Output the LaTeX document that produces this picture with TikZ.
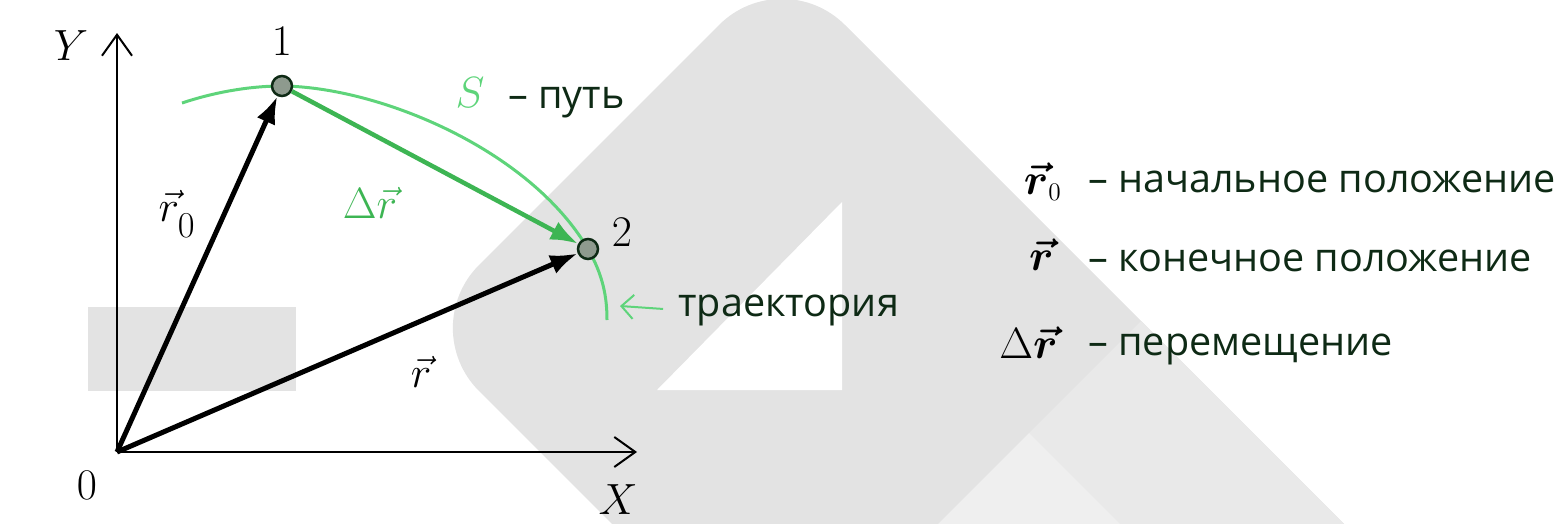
\documentclass[tikz,border=0pt]{standalone}
\usepackage{amsmath}
\usepackage{fontspec}
\usepackage{tikz}
\usetikzlibrary{arrows.meta, positioning}
\newfontfamily\rufont{Open Sans}
\definecolor{colorPath}{HTML}{5ED47A}
\definecolor{colorShift}{HTML}{3DB553}
\definecolor{colorText}{HTML}{0E2A15}
\definecolor{colorPoint}{HTML}{8E9A8E}
\definecolor{colorMark}{HTML}{E3E3E3}
\definecolor{colorMarkMid}{HTML}{E9E9E9}
\definecolor{colorMarkLight}{HTML}{EFEFEF}

\begin{document}
\begin{tikzpicture}[
        x=0.02cm, y=-0.02cm,
        lbl/.style={font=\fontsize{28}{32}\selectfont, inner sep=0pt},
        sym/.style={font=\fontsize{27}{32}\selectfont, inner sep=0pt, anchor=base east},
        txt/.style={font=\rufont\fontsize{22.5}{27}\selectfont, text=colorText, inner sep=0pt, anchor=base west},
        pt/.style={circle, draw=colorText, fill=colorPoint, line width=0.05cm,
            minimum size=0.4cm, inner sep=0pt},
        axis/.style={-{Straight Barb[length=0.42cm, width=0.6cm]}, line width=0.04cm},
        vec/.style={-{Latex[length=0.55cm, width=0.4cm]}, line width=0.1cm},
        dispvec/.style={vec, colorShift, line width=0.09cm},
        traj/.style={colorPath, line width=0.06cm}
    ]
    \useasboundingbox (0,0) rectangle (1562,524);
    % watermark
    \begin{scope}
        \clip (0,0) rectangle (1562,524);
        \fill[colorMark, rounded corners=1.78cm] (800,712) -- (416,328) -- (782,-38) -- (1600,780) -- cycle;
        \fill[colorMarkMid] (1141,321) -- (1029,433) -- (1191,595) -- (1415,595) -- cycle;
        \fill[colorMarkLight] (1029,433) -- (918,544) -- (1140,544) -- cycle;
        \fill[white] (657,390) -- (842,390) -- (842,202) -- cycle;
        \fill[colorMark] (88,307) rectangle (296,391);
    \end{scope}
    % axes
    \coordinate (o) at (117,452);
    \coordinate (yEnd) at (117,33);
    \coordinate (xEnd) at (637,452);
    \draw[axis] (o) -- (yEnd);
    \draw[axis] (o) -- (xEnd);
    \node[lbl] (yLbl) at (71,46) {$Y$};
    \node[lbl] (xLbl) at (618,500) {$X$};
    \node[lbl] (oLbl) at (87,485) {$0$};
    % trajectory and points
    \draw[traj] (182,103) .. controls (215,92) and (250,86) .. (282,86)
        .. controls (380,87) and (530,150) .. (588,249)
        .. controls (603,275) and (607,297) .. (607,320);
    \node[pt] (p1) at (282,86) {};
    \node[pt] (p2) at (588,249) {};
    \node[lbl, above=0.38cm of p1] (n1) {$1$};
    \node[lbl] (n2) at (622,232) {$2$};
    \draw[vec] (o) -- (p1);
    \draw[vec] (o) -- (p2);
    \draw[dispvec] (p1) -- (p2);
    \node[lbl] (r0Lbl) at (177,214) {$\vec{r}_{\lower5pt\hbox{$\scriptstyle 0$}}$};
    \node[lbl, text=colorShift] (drLbl) at (370,203) {$\Delta\vec{r}$};
    \node[lbl] (rLbl) at (421,372) {$\vec{r}$};
    \node[lbl, text=colorPath] (sLbl) at (470,93) {$S$};
    \node[txt] (sTxt) at (508,108) {– путь};
    \node[txt] (trajTxt) at (678,316) {траектория};
    \coordinate (trajTip) at (620,306);
    \draw[-{Straight Barb[length=0.24cm, width=0.48cm]}, colorPath, line width=0.04cm,
        shorten <=0.3cm] (trajTxt.west) -- (trajTip);
    % legend
    \node[txt] (leg1) at (1088,192) {– начальное положение};
    \node[txt] (leg2) at (1088,271) {– конечное положение};
    \node[txt] (leg3) at (1088,355) {– перемещение};
    \node[sym] (m1) at (1062,194) {$\boldsymbol{\vec{r}}_{\scriptscriptstyle 0}$};
    \node[sym] (m2) at (1054,270) {$\boldsymbol{\vec{r}}$};
    \node[sym] (m3) at (1058,358) {$\Delta\boldsymbol{\vec{r}}$};
\end{tikzpicture}
\end{document}
